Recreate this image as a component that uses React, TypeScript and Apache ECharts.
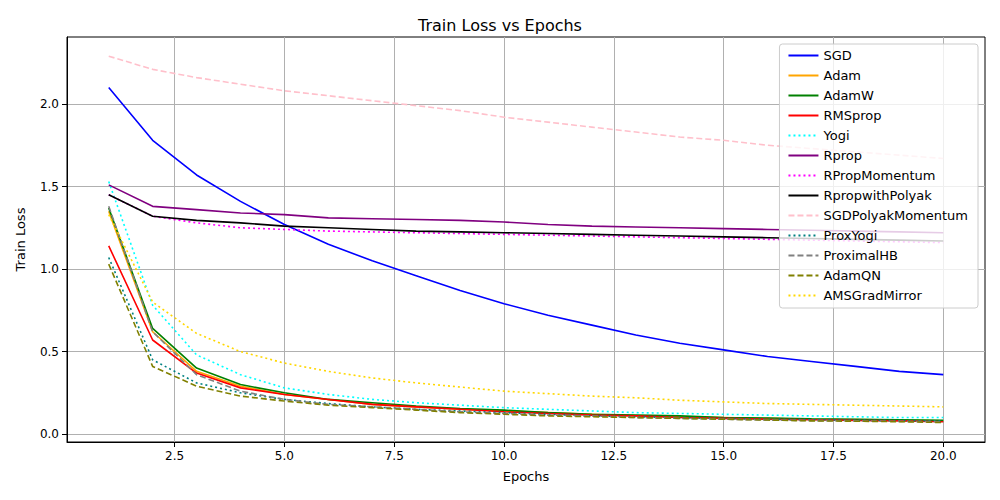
import React, { useEffect, useRef } from "react";
import * as echarts from "echarts";

const epochs = [1, 2, 3, 4, 5, 6, 7, 8, 9, 10, 11, 12, 13, 14, 15, 16, 17, 18, 19, 20];
const xTicks = [2.5, 5, 7.5, 10, 12.5, 15, 17.5, 20];
const yTicks = [0, 0.5, 1, 1.5, 2];

const sgd = [2.1, 1.78, 1.57, 1.41, 1.27, 1.15, 1.05, 0.96, 0.87, 0.79, 0.72, 0.66, 0.6, 0.55, 0.51, 0.47, 0.44, 0.41, 0.38, 0.36];
const adam = [1.35, 0.62, 0.38, 0.29, 0.24, 0.21, 0.18, 0.165, 0.15, 0.14, 0.13, 0.12, 0.11, 0.105, 0.1, 0.095, 0.09, 0.088, 0.085, 0.08];
const adamW = [1.37, 0.64, 0.4, 0.3, 0.25, 0.21, 0.19, 0.17, 0.155, 0.145, 0.13, 0.12, 0.115, 0.11, 0.1, 0.097, 0.093, 0.09, 0.087, 0.083];
const rmsprop = [1.14, 0.57, 0.37, 0.28, 0.24, 0.21, 0.18, 0.165, 0.15, 0.135, 0.125, 0.115, 0.11, 0.1, 0.095, 0.09, 0.087, 0.083, 0.08, 0.075];
const yogi = [1.53, 0.78, 0.48, 0.36, 0.28, 0.24, 0.21, 0.19, 0.175, 0.16, 0.15, 0.14, 0.13, 0.125, 0.12, 0.115, 0.11, 0.105, 0.1, 0.1];
const rprop = [1.51, 1.38, 1.36, 1.34, 1.33, 1.31, 1.305, 1.3, 1.295, 1.285, 1.27, 1.26, 1.255, 1.25, 1.245, 1.24, 1.235, 1.23, 1.225, 1.22];
const rpropMomentum = [1.45, 1.32, 1.28, 1.25, 1.24, 1.23, 1.225, 1.22, 1.215, 1.21, 1.205, 1.2, 1.195, 1.19, 1.185, 1.18, 1.175, 1.17, 1.165, 1.16];
const rpropPolyak = [1.45, 1.32, 1.295, 1.28, 1.26, 1.25, 1.24, 1.23, 1.225, 1.22, 1.215, 1.21, 1.205, 1.2, 1.195, 1.19, 1.185, 1.18, 1.175, 1.17];
const sgdPolyak = [2.29, 2.21, 2.16, 2.12, 2.08, 2.05, 2.02, 1.99, 1.96, 1.92, 1.89, 1.86, 1.83, 1.8, 1.78, 1.75, 1.73, 1.71, 1.69, 1.67];
const proxYogi = [1.07, 0.45, 0.31, 0.25, 0.21, 0.185, 0.165, 0.15, 0.14, 0.13, 0.12, 0.11, 0.105, 0.1, 0.095, 0.09, 0.087, 0.085, 0.082, 0.08];
const proximalHB = [1.38, 0.62, 0.36, 0.26, 0.21, 0.18, 0.165, 0.15, 0.135, 0.125, 0.115, 0.11, 0.1, 0.095, 0.09, 0.085, 0.082, 0.08, 0.077, 0.075];
const adamQN = [1.03, 0.41, 0.29, 0.23, 0.2, 0.175, 0.16, 0.145, 0.13, 0.12, 0.11, 0.105, 0.1, 0.095, 0.09, 0.085, 0.08, 0.078, 0.075, 0.07];
const amsGradMirror = [1.33, 0.8, 0.61, 0.5, 0.43, 0.38, 0.34, 0.31, 0.285, 0.26, 0.245, 0.23, 0.22, 0.205, 0.195, 0.185, 0.18, 0.175, 0.17, 0.165];

const seriesDefs: [string, number[], string, string][] = [
  ["SGD", sgd, "#0000ff", "solid"],
  ["Adam", adam, "#ffa500", "solid"],
  ["AdamW", adamW, "#008000", "solid"],
  ["RMSprop", rmsprop, "#ff0000", "solid"],
  ["Yogi", yogi, "#00ffff", "dotted"],
  ["Rprop", rprop, "#800080", "solid"],
  ["RPropMomentum", rpropMomentum, "#ff00ff", "dotted"],
  ["RpropwithPolyak", rpropPolyak, "#000000", "solid"],
  ["SGDPolyakMomentum", sgdPolyak, "#ffc0cb", "dashed"],
  ["ProxYogi", proxYogi, "#008080", "dotted"],
  ["ProximalHB", proximalHB, "#808080", "dashed"],
  ["AdamQN", adamQN, "#808000", "dashed"],
  ["AMSGradMirror", amsGradMirror, "#ffd700", "dotted"],
];

export default function App() {
  const chartRef = useRef<HTMLDivElement>(null);

  useEffect(() => {
    document.body.style.margin = "0";
    const chart = echarts.init(chartRef.current!, null, { renderer: "svg" });
    const font = "DejaVu Sans";

    chart.setOption({
      animation: false,
      textStyle: { fontFamily: font },
      title: {
        text: "Train Loss vs Epochs",
        left: "center",
        top: 12,
        textStyle: { fontFamily: font, fontSize: 16, fontWeight: "normal", color: "#000" },
      },
      grid: { left: 67, right: 15, top: 37, bottom: 58, show: true, borderColor: "#000", borderWidth: 1 },
      legend: {
        orient: "vertical",
        right: 22,
        top: 44,
        itemGap: 7,
        itemWidth: 30,
        itemHeight: 14,
        padding: [5, 10, 6, 8],
        backgroundColor: "rgba(255,255,255,0.8)",
        borderColor: "#ccc",
        borderWidth: 1,
        borderRadius: 3,
        itemStyle: { opacity: 0 },
        textStyle: { fontFamily: font, fontSize: 13, color: "#000" },
        data: seriesDefs.map((d) => d[0]),
      },
      xAxis: {
        type: "value",
        min: 0.05,
        max: 20.95,
        name: "Epochs",
        nameLocation: "middle",
        nameGap: 28,
        nameTextStyle: { fontSize: 13, color: "#000" },
        axisLine: { onZero: false, lineStyle: { color: "#000" } },
        axisTick: { show: true, customValues: xTicks, lineStyle: { color: "#000" } },
        axisLabel: {
          customValues: xTicks,
          formatter: (v: number) => v.toFixed(1),
          color: "#000",
          fontSize: 12,
        },
        splitLine: { show: true, lineStyle: { color: "#b0b0b0", width: 1 } },
      },
      yAxis: {
        type: "value",
        min: -0.048,
        max: 2.406,
        name: "Train Loss",
        nameLocation: "middle",
        nameGap: 40,
        nameTextStyle: { fontSize: 13, color: "#000" },
        axisLine: { show: true, lineStyle: { color: "#000" } },
        axisTick: { show: true, customValues: yTicks, lineStyle: { color: "#000" } },
        axisLabel: {
          customValues: yTicks,
          formatter: (v: number) => v.toFixed(1),
          color: "#000",
          fontSize: 12,
        },
        splitLine: { show: true, lineStyle: { color: "#b0b0b0", width: 1 } },
      },
      series: seriesDefs.map(([name, vals, color, dash]) => ({
        name,
        type: "line",
        data: epochs.map((e, i) => [e, vals[i]]),
        showSymbol: false,
        symbol: "none",
        color,
        lineStyle: { color, width: 1.6, type: dash === "dotted" ? [2, 3] : dash === "dashed" ? [6, 3] : "solid" },
      })),
    });

    return () => chart.dispose();
  }, []);

  return <div ref={chartRef} style={{ width: 1000, height: 500 }} />;
}
